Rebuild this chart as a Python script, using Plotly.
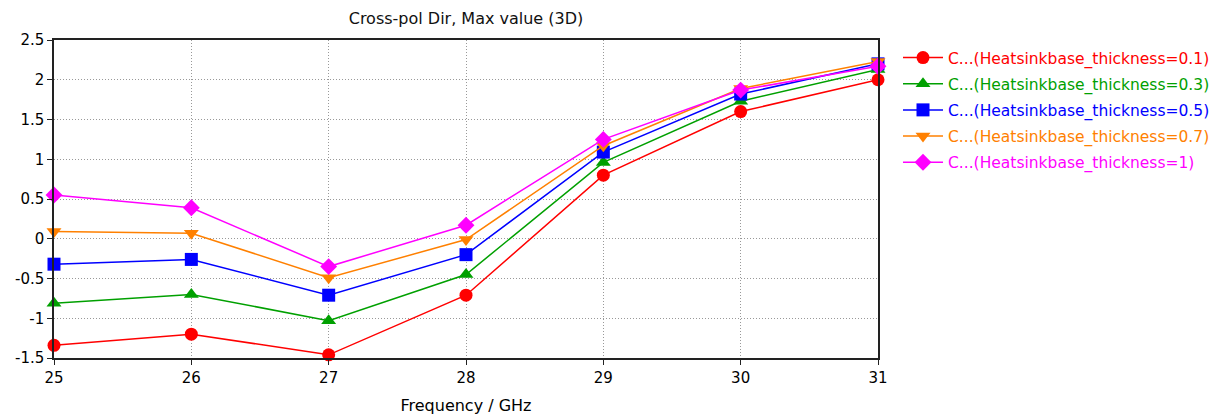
import plotly.graph_objects as go

freq = [25, 26, 27, 28, 29, 30, 31]
thickness_labels = ["0.1", "0.3", "0.5", "0.7", "1"]
s_01 = [-1.34, -1.20, -1.46, -0.71, 0.80, 1.60, 2.00]
s_03 = [-0.81, -0.70, -1.03, -0.45, 0.96, 1.73, 2.13]
s_05 = [-0.32, -0.26, -0.71, -0.20, 1.09, 1.82, 2.20]
s_07 = [0.09, 0.07, -0.49, -0.01, 1.17, 1.89, 2.23]
s_10 = [0.55, 0.39, -0.35, 0.17, 1.25, 1.87, 2.17]

series = [s_01, s_03, s_05, s_07, s_10]
colors = ["#ff0000", "#00a000", "#0000ff", "#ff8000", "#ff00ff"]
symbols = ["circle", "triangle-up", "square", "triangle-down", "diamond"]

fig = go.Figure()
for i, (vals, lab, col, sym) in enumerate(zip(series, thickness_labels, colors, symbols)):
    fig.add_trace(go.Scatter(
        x=freq, y=vals, mode="lines+markers",
        name=f"<span style='color:{col}'>C...(Heatsinkbase_thickness={lab})</span>",
        legendgroup=f"g{i}",
        line=dict(color=col, width=1.5),
        marker=dict(symbol=sym, size=13, color=col),
        cliponaxis=False,
    ))

# the page body adds an 8px offset; compensate in margins
OFF = 8
L, T = 54 - OFF, 40 - OFF
PW, PH = 824, 318
W, H = 1225, 419
R, B = W - L - PW, H - T - PH
font = "DejaVu Sans, Verdana, sans-serif"
fig.update_layout(
    width=W, height=H,
    margin=dict(l=L, r=R, t=T, b=B, autoexpand=False),
    paper_bgcolor="white", plot_bgcolor="white",
    font=dict(family=font, size=15, color="black"),
    title=dict(text="Cross-pol Dir, Max value (3D)", x=(466 - OFF) / W, xanchor="center",
               y=1 - (18 - OFF) / H, yanchor="middle", font=dict(size=16, color="#111111")),
    legend=dict(x=(898 - OFF - L) / PW, y=1 - (41 - OFF - T) / PH,
                xanchor="left", yanchor="top",
                font=dict(size=15.5), tracegroupgap=3, itemwidth=40,
                bgcolor="rgba(0,0,0,0)"),
    showlegend=True,
)
fig.update_xaxes(range=[25, 31], tickvals=freq, ticktext=[str(f) for f in freq],
                 showgrid=True, gridcolor="#999999", griddash="1px,2px", gridwidth=1,
                 showline=True, linecolor="#222222", linewidth=1.5, mirror=True,
                 ticks="outside", ticklen=5, tickcolor="#222222", automargin=False,
                 zeroline=False,
                 title=dict(text="Frequency / GHz", font=dict(size=16), standoff=14))
fig.update_yaxes(range=[-1.5, 2.5], tickvals=[-1.5, -1, -0.5, 0, 0.5, 1, 1.5, 2, 2.5],
                 ticktext=["-1.5", "-1", "-0.5", "0", "0.5", "1", "1.5", "2", "2.5"],
                 showgrid=True, gridcolor="#999999", griddash="1px,2px", gridwidth=1,
                 showline=True, linecolor="#222222", linewidth=1.5, mirror=True,
                 ticks="outside", ticklen=5, tickcolor="#222222", automargin=False,
                 zeroline=False)
fig.write_html("out.html")
